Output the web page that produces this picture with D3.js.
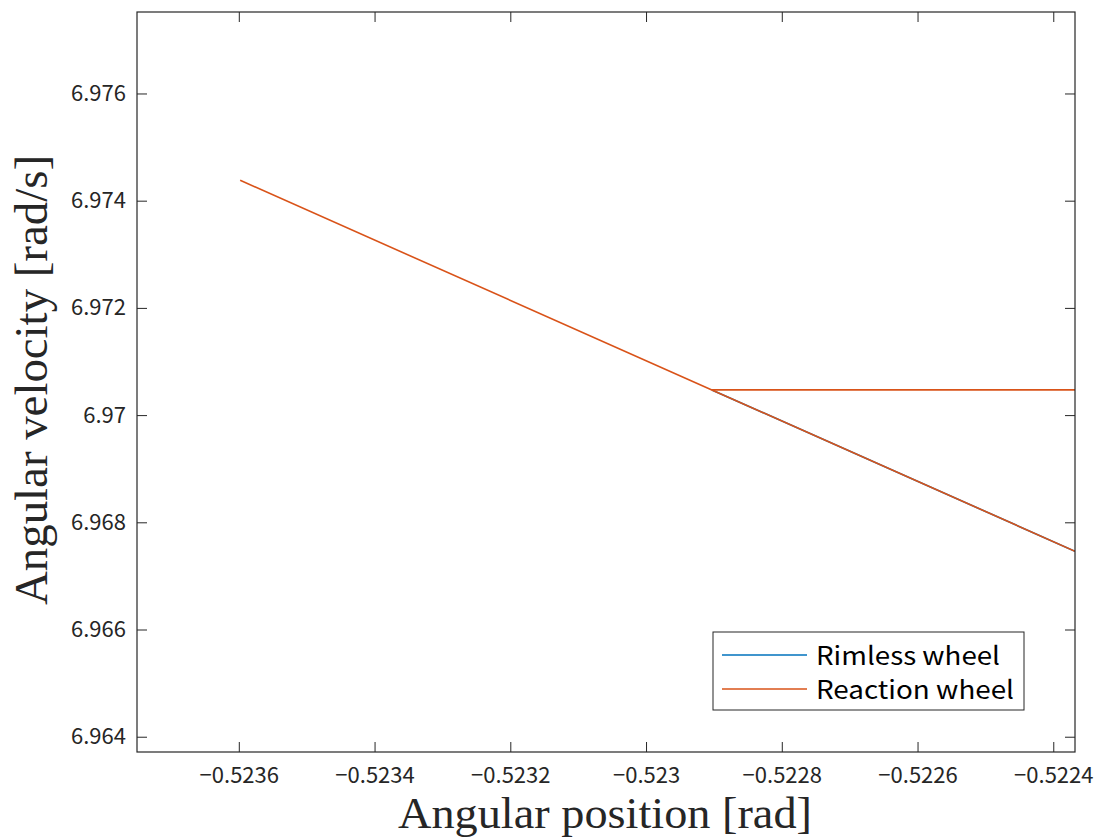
<!DOCTYPE html>
<html><head><meta charset="utf-8">
<script src="https://cdn.jsdelivr.net/npm/d3@7"></script>
<style>body{margin:0;background:#fff}svg{display:block}</style>
</head><body>
<svg id="c" width="1097" height="837"></svg>
<script>
const xTicks = [-0.5236, -0.5234, -0.5232, -0.523, -0.5228, -0.5226, -0.5224];
const xTickLabels = ["\u22120.5236", "\u22120.5234", "\u22120.5232", "\u22120.523", "\u22120.5228", "\u22120.5226", "\u22120.5224"];
const yTicks = [6.964, 6.966, 6.968, 6.97, 6.972, 6.974, 6.976];
const yTickLabels = ["6.964", "6.966", "6.968", "6.97", "6.972", "6.974", "6.976"];
const seriesNames = ["Rimless wheel", "Reaction wheel"];
const seriesColors = ["#0072BD", "#D95319"];
// Rimless wheel (hidden under reaction wheel)
const rimlessX = [-0.522903, -0.522368];
const rimlessY = [6.97047, 6.96746];
// Reaction wheel: diagonal + horizontal branch
const reactionX = [-0.523598, -0.522903, -0.522368];
const reactionY = [6.97438, 6.97047, 6.96746];
const reactionFlatX = [-0.522903, -0.522368];
const reactionFlatY = [6.97047, 6.97047];

const W = 1097, H = 837;
const m = {l:137, t:12, r:1075, b:752};
const svg = d3.select("#c");
const x = d3.scaleLinear().domain([-0.52375, -0.522368]).range([m.l, m.r]);
const y = d3.scaleLinear().domain([6.963715, 6.97752]).range([m.b, m.t]);

svg.append("defs").append("clipPath").attr("id","clip")
  .append("rect").attr("x",m.l).attr("y",m.t).attr("width",m.r-m.l).attr("height",m.b-m.t);

const line = d3.line().x(d=>x(d[0])).y(d=>y(d[1]));
const g = svg.append("g").attr("clip-path","url(#clip)");
g.append("path").datum(rimlessX.map((v,i)=>[v,rimlessY[i]]))
  .attr("d",line).attr("fill","none").attr("stroke",seriesColors[0]).attr("stroke-width",1.6);
g.append("path").datum(reactionX.map((v,i)=>[v,reactionY[i]]))
  .attr("d",line).attr("fill","none").attr("stroke",seriesColors[1]).attr("stroke-width",1.6);
g.append("path").datum(reactionFlatX.map((v,i)=>[v,reactionFlatY[i]]))
  .attr("d",line).attr("fill","none").attr("stroke",seriesColors[1]).attr("stroke-width",1.8);

const axColor = "#262626";
const tickFont = "'Noto Sans CJK JP', 'Noto Sans', sans-serif";
const tl = 10;
const xb = svg.append("g").attr("transform",`translate(0,${m.b})`)
  .call(d3.axisBottom(x).tickValues(xTicks).tickSize(-tl).tickPadding(15)
    .tickFormat((d,i)=>xTickLabels[i]));
const xt = svg.append("g").attr("transform",`translate(0,${m.t})`)
  .call(d3.axisTop(x).tickValues(xTicks).tickSize(-tl).tickFormat(""));
const yl = svg.append("g").attr("transform",`translate(${m.l},0)`)
  .call(d3.axisLeft(y).tickValues(yTicks).tickSize(-tl).tickPadding(11)
    .tickFormat((d,i)=>yTickLabels[i]));
const yr = svg.append("g").attr("transform",`translate(${m.r},0)`)
  .call(d3.axisRight(y).tickValues(yTicks).tickSize(-tl).tickFormat(""));
[xb,xt,yl,yr].forEach(a=>{
  a.select(".domain").remove();
  a.selectAll(".tick line").attr("stroke",axColor).attr("stroke-width",1);
  a.selectAll(".tick text").attr("fill","#262626").style("font-family",tickFont).style("font-size","22px");
});
svg.append("rect").attr("x",m.l).attr("y",m.t).attr("width",m.r-m.l).attr("height",m.b-m.t)
  .attr("fill","none").attr("stroke",axColor).attr("stroke-width",1.2);

// axis labels
const serif = "'Liberation Serif', 'DejaVu Serif', serif";
svg.append("text").attr("x",605).attr("y",828).attr("text-anchor","middle")
  .attr("textLength",414).attr("lengthAdjust","spacingAndGlyphs")
  .style("font-family",serif).style("font-size","45px").attr("fill","#262626")
  .text("Angular position [rad]");
svg.append("text").attr("transform","translate(47,380) rotate(-90)").attr("text-anchor","middle")
  .attr("textLength",450).attr("lengthAdjust","spacingAndGlyphs")
  .style("font-family",serif).style("font-size","46px").attr("fill","#262626")
  .text("Angular velocity [rad/s]");

// legend
const legendLens = [184, 198];
const lg = svg.append("g");
lg.append("rect").attr("x",713).attr("y",632).attr("width",311).attr("height",78)
  .attr("fill","#fff").attr("stroke",axColor).attr("stroke-width",1);
seriesNames.forEach((n,i)=>{
  const yy = 656 + i*34;
  lg.append("line").attr("x1",722).attr("x2",807).attr("y1",yy-1).attr("y2",yy-1)
    .attr("stroke",seriesColors[i]).attr("stroke-width",1.5);
  lg.append("text").attr("x",816).attr("y",yy).attr("dy","0.35em")
    .attr("textLength",legendLens[i]).attr("lengthAdjust","spacingAndGlyphs")
    .style("font-family",tickFont).style("font-size","25px").attr("fill","#000").text(n);
});
</script>
</body></html>
